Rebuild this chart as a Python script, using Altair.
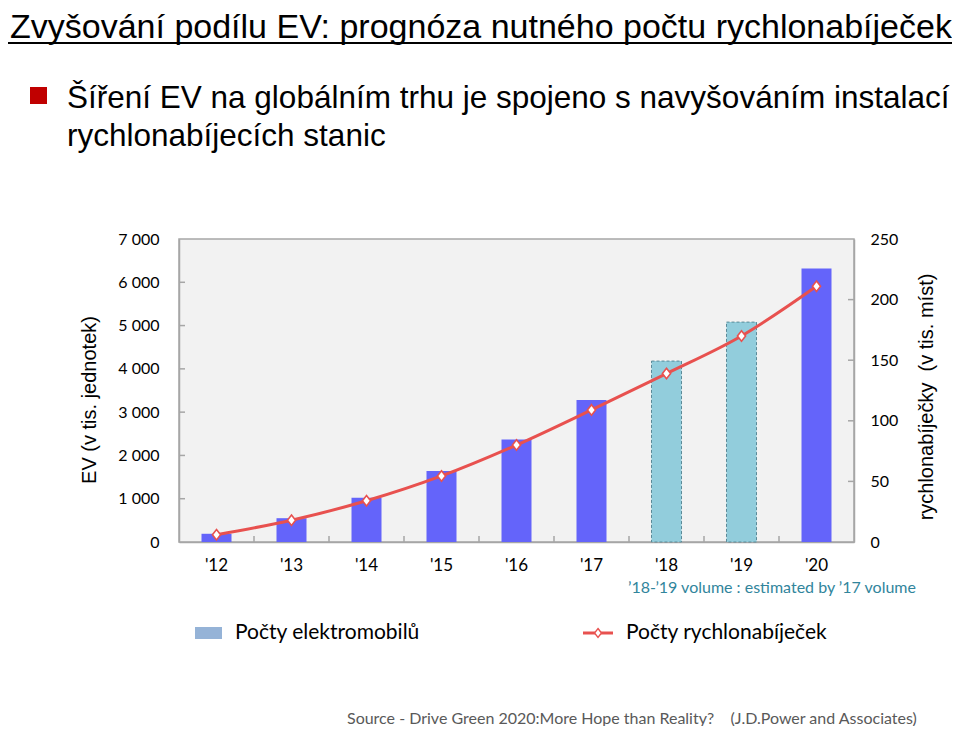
import altair as alt
import pandas as pd

# ---- data ----
years = ["'12", "'13", "'14", "'15", "'16", "'17", "'18", "'19", "'20"]
ev_units = [190, 550, 1020, 1640, 2370, 3280, 4180, 5080, 6320]   # thousands of EVs
chargers = [6, 18, 34, 54.5, 80, 109, 139, 170, 211]               # thousands of fast chargers
estimated = [False, False, False, False, False, False, True, True, False]
left_ticks = [1000, 2000, 3000, 4000, 5000, 6000]
right_ticks = [50, 100, 150, 200]

title_text = "Zvyšování podílu EV: prognóza nutného počtu rychlonabíječek"
bullet_line1 = "Šíření EV na globálním trhu je spojeno s navyšováním instalací"
bullet_line2 = "rychlonabíjecích stanic"
left_title = "EV (v tis. jednotek)"
right_title = "rychlonabíječky\u00a0 (v tis. míst)"
note_text = "’18-’19 volume : estimated by ’17 volume"
legend_bar = "Počty elektromobilů"
legend_line = "Počty rychlonabíječek"
source_text = "Source - Drive Green 2020:More Hope than Reality?\u00a0\u00a0\u00a0 (J.D.Power and Associates)"

df = pd.DataFrame({"year": years, "ev": ev_units, "ch": chargers, "est": estimated})

W, H = 675, 303
BAR = "#6464FA"
EST = "#92CDDC"
RED = "#E8514F"
SANS = "Liberation Sans"
CAL = "Lato"
DIAMOND = "M0,-1L0.78,0L0,1L-0.78,0Z"

xenc = alt.X("year:N", sort=years,
             scale=alt.Scale(paddingInner=0.6, paddingOuter=0.3),
             axis=alt.Axis(title=None, labelAngle=0, labelFont=CAL, labelFontSize=17,
                           labelColor="#000000", labelPadding=15, domainColor="#A6A6A6",
                           domainWidth=1.5, ticks=False))

yleft = alt.Y("ev:Q", scale=alt.Scale(domain=[0, 7000], nice=False),
              axis=alt.Axis(title=None, values=[0, 1000, 2000, 3000, 4000, 5000, 6000, 7000],
                            labelExpr="replace(format(datum.value, ','), ',', ' ')",
                            labelFont=CAL, labelFontSize=16, labelColor="#000000",
                            labelPadding=20, ticks=False, grid=False,
                            domainColor="#A6A6A6", domainWidth=1.5))

yright = alt.Y("ch:Q", scale=alt.Scale(domain=[0, 250], nice=False),
               axis=alt.Axis(title=None, orient="right", values=[0, 50, 100, 150, 200, 250],
                             labelFont=CAL, labelFontSize=16, labelColor="#000000",
                             labelPadding=16, ticks=False, grid=False,
                             domainColor="#A6A6A6", domainWidth=1.5))

base = alt.Chart(df)

bars_solid = base.transform_filter("!datum.est").mark_bar(color=BAR).encode(x=xenc, y=yleft)
bars_est = base.transform_filter("datum.est").mark_bar(
    color=EST, stroke="#5A8A98", strokeWidth=1, strokeDash=[3, 2]).encode(x=xenc, y=yleft)
lt = alt.Chart(pd.DataFrame({"ev": left_ticks})).mark_rule(color="#A6A6A6", strokeWidth=1.5).encode(
    y=yleft, x=alt.value(0), x2=alt.value(6))
xt = alt.Chart(pd.DataFrame({"year": years[1:]})).mark_rule(
    color="#A6A6A6", strokeWidth=1.5, xOffset=-37.5).encode(
    x=xenc, y=alt.value(H), y2=alt.value(H - 6))
left = alt.layer(bars_solid, bars_est, lt, xt)

line = base.mark_line(color=RED, strokeWidth=3, interpolate="monotone").encode(x=xenc, y=yright)
pts = base.mark_point(shape=DIAMOND, size=110, filled=True, fill="white",
                      stroke=RED, strokeWidth=1.6, opacity=1).encode(x=xenc, y=yright)
rt = alt.Chart(pd.DataFrame({"ch": right_ticks})).mark_rule(color="#A6A6A6", strokeWidth=1.5).encode(
    y=yright, x=alt.value(W - 6), x2=alt.value(W))
right = alt.layer(line, pts, rt)

plot = alt.layer(left, right).resolve_scale(y="independent")


def txt(s, x, y, size, font=SANS, color="#000000", align="left", baseline="alphabetic", angle=0):
    return alt.Chart(pd.DataFrame({"t": [s]})).mark_text(
        align=align, baseline=baseline, font=font, fontSize=size, color=color, angle=angle
    ).encode(text="t:N", x=alt.value(x), y=alt.value(y))


def rect(x1, x2, y1, y2, color):
    return alt.Chart(pd.DataFrame({"a": [0]})).mark_rect(color=color).encode(
        x=alt.value(x1), x2=alt.value(x2), y=alt.value(y1), y2=alt.value(y2))


OX, OY = 179, 239  # page position of plot origin

extras = [
    txt(title_text, 10 - OX, 38 - OY, 34),
    alt.Chart(pd.DataFrame({"a": [0]})).mark_rule(color="#000000", strokeWidth=2).encode(
        x=alt.value(8 - OX), x2=alt.value(952 - OX), y=alt.value(43 - OY)),
    rect(30 - OX, 47 - OX, 87 - OY, 104 - OY, "#C00000"),
    txt(bullet_line1, 67 - OX, 108 - OY, 31.5),
    txt(bullet_line2, 67 - OX, 146 - OY, 31.5),
    txt(left_title, 90 - OX, 400 - OY, 20, align="center", baseline="middle", angle=270),
    txt(right_title, 927 - OX, 397 - OY, 20, align="center", baseline="middle", angle=270),
    txt(note_text, 628 - OX, 588 - OY, 16, font=CAL, color="#31859C", baseline="middle"),
    rect(195 - OX, 222 - OX, 627 - OY, 639 - OY, "#95B3D7"),
    txt(legend_bar, 235 - OX, 633 - OY, 21, font=CAL, baseline="middle"),
    alt.Chart(pd.DataFrame({"a": [0]})).mark_rule(color=RED, strokeWidth=3).encode(
        x=alt.value(583 - OX), x2=alt.value(613 - OX), y=alt.value(633 - OY)),
    alt.Chart(pd.DataFrame({"a": [0]})).mark_point(
        shape=DIAMOND, size=80, filled=True, fill="white",
        stroke=RED, strokeWidth=1.4, opacity=1).encode(x=alt.value(598 - OX), y=alt.value(633 - OY)),
    txt(legend_line, 626 - OX, 633 - OY, 21, font=CAL, baseline="middle"),
    txt(source_text, 347 - OX, 724 - OY, 16, font=CAL, color="#595959"),
]

chart = alt.layer(plot, *extras).properties(
    width=W, height=H,
    autosize=alt.AutoSizeParams(type="none"),
    padding={"left": OX - 8, "top": OY - 8, "right": 944 - (OX - 8) - W, "bottom": 718 - (OY - 8) - H},
    background="white",
).configure_view(fill="#F2F2F2", stroke="#A6A6A6", strokeWidth=1.5)

chart.save("out.html", embed_options={"renderer": "svg", "actions": False})
